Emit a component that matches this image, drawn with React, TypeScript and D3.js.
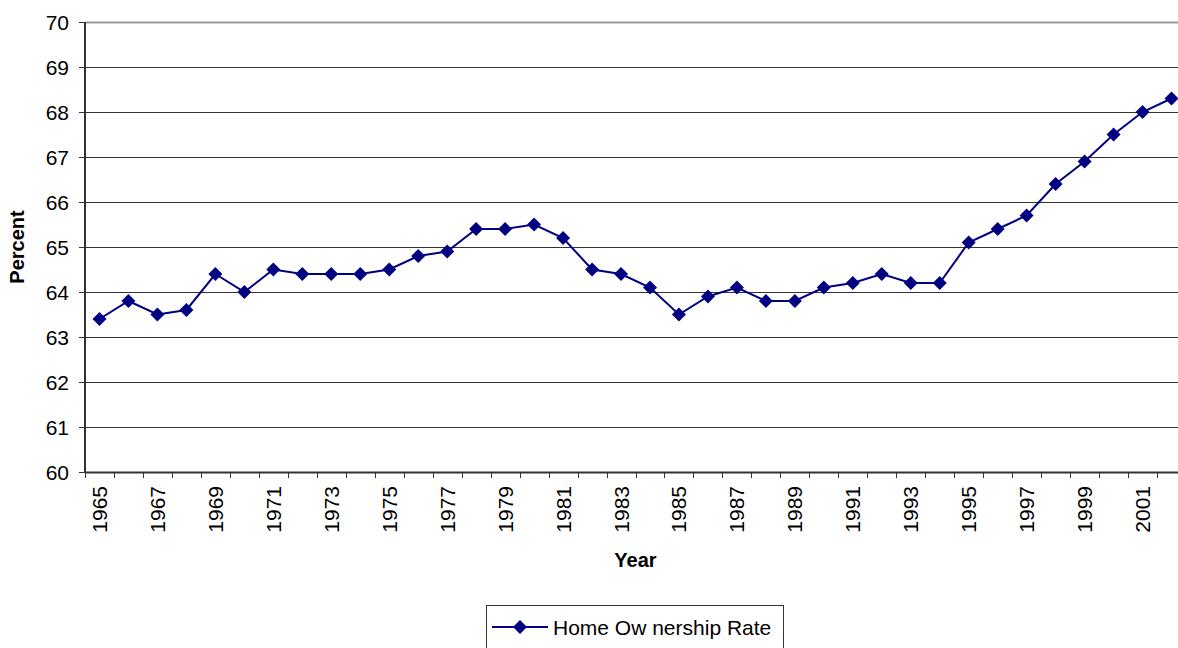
import React from "react";
import * as d3 from "d3";

const years: number[] = [
  1965, 1966, 1967, 1968, 1969, 1970, 1971, 1972, 1973, 1974, 1975, 1976, 1977,
  1978, 1979, 1980, 1981, 1982, 1983, 1984, 1985, 1986, 1987, 1988, 1989, 1990,
  1991, 1992, 1993, 1994, 1995, 1996, 1997, 1998, 1999, 2000, 2001, 2002,
];
const rates: number[] = [
  63.4, 63.8, 63.5, 63.6, 64.4, 64.0, 64.5, 64.4, 64.4, 64.4, 64.5, 64.8, 64.9,
  65.4, 65.4, 65.5, 65.2, 64.5, 64.4, 64.1, 63.5, 63.9, 64.1, 63.8, 63.8, 64.1,
  64.2, 64.4, 64.2, 64.2, 65.1, 65.4, 65.7, 66.4, 66.9, 67.5, 68.0, 68.3,
];
const yTicks: number[] = [60, 61, 62, 63, 64, 65, 66, 67, 68, 69, 70];
const seriesName = "Home Ow nership Rate";
const xTitle = "Year";
const yTitle = "Percent";

const W = 1178;
const H = 648;
const left = 85;
const right = 1186;
const top = 22;
const bottom = 472;
const FONT = "Arial, 'Liberation Sans', sans-serif";
const NAVY = "#000080";

export default function App() {
  const x = d3
    .scaleBand<number>()
    .domain(years)
    .range([left, right])
    .paddingInner(0)
    .paddingOuter(0);
  const y = d3.scaleLinear().domain([60, 70]).range([bottom, top]);
  const cx = (yr: number) => (x(yr) as number) + x.bandwidth() / 2;

  const line = d3
    .line<number>()
    .x((_, i) => cx(years[i]))
    .y((v) => y(v));

  const diamond = (px: number, py: number, r: number) =>
    `M${px},${py - r}L${px + r},${py}L${px},${py + r}L${px - r},${py}Z`;

  const tickPositions = years.map((yr) => x(yr) as number).concat([right]);

  return (
    <svg
      width={W}
      height={H}
      style={{ position: "absolute", left: 0, top: 0, background: "#fff" }}
      fontFamily={FONT}
    >
      {/* gridlines */}
      {yTicks.map((t) => (
        <line
          key={"g" + t}
          x1={left}
          x2={right}
          y1={y(t) + 0.5}
          y2={y(t) + 0.5}
          stroke={t === 70 ? "#999" : "#333"}
          strokeWidth={t === 70 ? 2 : 1}
        />
      ))}
      {/* y axis */}
      <line x1={left} x2={left} y1={top} y2={bottom + 1} stroke="#333" strokeWidth={2} />
      {yTicks.map((t) => (
        <g key={"yt" + t}>
          <line x1={left - 6} x2={left} y1={y(t) + 0.5} y2={y(t) + 0.5} stroke="#333" />
          <text
            x={69}
            y={y(t)}
            dy="0.36em"
            textAnchor="end"
            fontSize={21}
            fill="#000"
          >
            {t}
          </text>
        </g>
      ))}
      {/* x axis */}
      <line x1={left} x2={right} y1={bottom + 0.5} y2={bottom + 0.5} stroke="#333" strokeWidth={2} />
      {tickPositions.map((p, i) => (
        <line
          key={"xt" + i}
          x1={Math.round(p) + 0.5}
          x2={Math.round(p) + 0.5}
          y1={bottom}
          y2={bottom + 6}
          stroke="#333"
        />
      ))}
      {years.map((yr, i) =>
        i % 2 === 0 ? (
          <text
            key={"xl" + yr}
            transform={`translate(${cx(yr) + 7.5},${bottom + 14}) rotate(-90)`}
            textAnchor="end"
            fontSize={21}
            fill="#000"
          >
            {yr}
          </text>
        ) : null
      )}
      {/* titles */}
      <text
        transform={`translate(24,${(top + bottom) / 2}) rotate(-90)`}
        textAnchor="middle"
        fontSize={20}
        fontWeight="bold"
      >
        {yTitle}
      </text>
      <text x={(left + right) / 2} y={567} textAnchor="middle" fontSize={20} fontWeight="bold">
        {xTitle}
      </text>
      {/* series */}
      <path d={line(rates) || ""} fill="none" stroke={NAVY} strokeWidth={2} />
      {rates.map((v, i) => (
        <path key={"m" + i} d={diamond(cx(years[i]), y(v), 7)} fill={NAVY} />
      ))}
      {/* legend */}
      <rect x={486.5} y={605.5} width={297} height={50} fill="#fff" stroke="#333" strokeWidth={1} />
      <line x1={492} x2={548} y1={627} y2={627} stroke={NAVY} strokeWidth={2} />
      <path d={diamond(520, 627, 7)} fill={NAVY} />
      <text x={553} y={627} dy="0.36em" fontSize={21} fill="#000">
        {seriesName}
      </text>
    </svg>
  );
}
